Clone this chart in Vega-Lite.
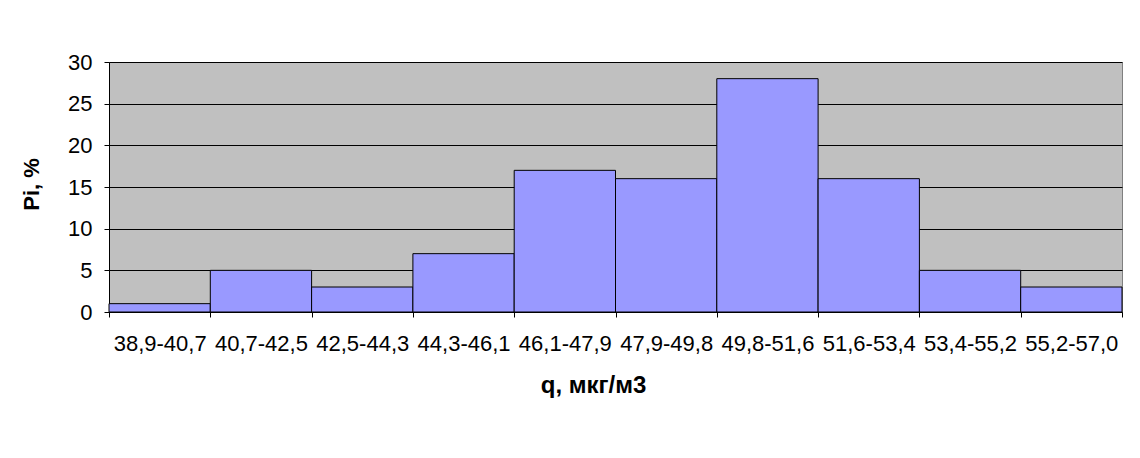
{
  "$schema": "https://vega.github.io/schema/vega-lite/v6.json",
  "autosize": "none",
  "width": 1013,
  "height": 250,
  "padding": {"left": 109, "top": 62, "right": 18, "bottom": 146},
  "background": "#FFFFFF",
  "data": {
    "values": [
      {"interval": "38,9-40,7", "pi": 1},
      {"interval": "40,7-42,5", "pi": 5},
      {"interval": "42,5-44,3", "pi": 3},
      {"interval": "44,3-46,1", "pi": 7},
      {"interval": "46,1-47,9", "pi": 17},
      {"interval": "47,9-49,8", "pi": 16},
      {"interval": "49,8-51,6", "pi": 28},
      {"interval": "51,6-53,4", "pi": 16},
      {"interval": "53,4-55,2", "pi": 5},
      {"interval": "55,2-57,0", "pi": 3}
    ]
  },
  "mark": {"type": "bar", "fill": "#9999FF", "stroke": "#000000", "strokeWidth": 1},
  "encoding": {
    "x": {
      "field": "interval",
      "type": "ordinal",
      "sort": null,
      "scale": {"paddingInner": 0, "paddingOuter": 0},
      "axis": {
        "title": "q, мкг/м3",
        "titleFont": "Liberation Sans",
        "titleFontSize": 24,
        "titleFontWeight": "bold",
        "titleColor": "#000000",
        "titleX": 484,
        "titleY": 80,
        "titleBaseline": "alphabetic",
        "labelAngle": 0,
        "labelFont": "Liberation Sans",
        "labelFontSize": 22,
        "labelColor": "#000000",
        "labelPadding": 16,
        "tickBand": "extent",
        "tickSize": 5,
        "tickColor": "#000000",
        "domainColor": "#000000",
        "grid": false
      }
    },
    "y": {
      "field": "pi",
      "type": "quantitative",
      "scale": {"domain": [0, 30], "nice": false},
      "axis": {
        "title": "Pi, %",
        "titleFont": "Liberation Sans",
        "titleFontSize": 22,
        "titleFontWeight": "bold",
        "titleColor": "#000000",
        "titleX": -71,
        "titleY": 122,
        "titleBaseline": "alphabetic",
        "values": [0, 5, 10, 15, 20, 25, 30],
        "labelFont": "Liberation Sans",
        "labelFontSize": 22,
        "labelColor": "#000000",
        "labelPadding": 12,
        "tickSize": 5,
        "tickColor": "#000000",
        "domainColor": "#000000",
        "grid": true,
        "gridColor": "#000000",
        "gridWidth": 1
      }
    }
  },
  "config": {
    "view": {"fill": "#C0C0C0", "stroke": "#808080", "strokeWidth": 1}
  }
}
